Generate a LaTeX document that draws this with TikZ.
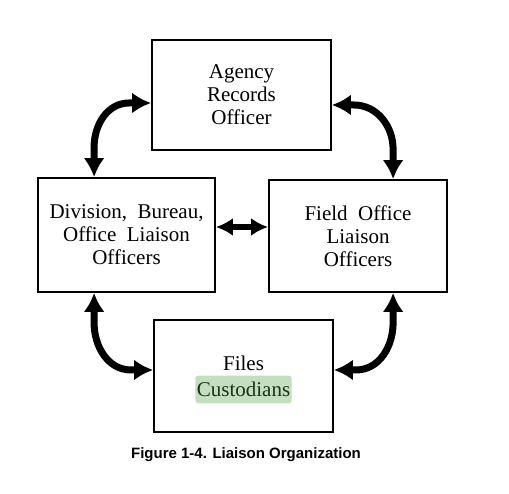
\documentclass[tikz,border=0pt]{standalone}
\usepackage{fontspec}
\setmainfont{Liberation Serif}
\newfontfamily\capfont{Liberation Sans}
\usetikzlibrary{arrows.meta,calc}
\definecolor{hl}{RGB}{196,223,192}
\definecolor{hltext}{RGB}{25,50,25}
\tikzset{
  boxnode/.style={draw=black, line width=1.8pt, minimum width=#1, align=center, font=\fontsize{21}{23}\selectfont, inner sep=0pt},
  link/.style={line width=7pt, {Latex[length=19pt,width=21pt]}-{Latex[length=19pt,width=21pt]}},
  midlink/.style={line width=5.5pt, {Latex[length=17pt,width=18pt]}-{Latex[length=17pt,width=18pt]}}
}
\begin{document}
\begin{tikzpicture}[x=1pt,y=1pt]
\useasboundingbox[fill=white] (0,0) rectangle (509,494);
\node[boxnode=179pt, minimum height=110pt] (T) at (241.5,399) {Agency\\Records\\Officer};
\node[boxnode=177pt, minimum height=114pt] (L) at (126.5,259) {Division,\ \ Bureau,\\Office\ \ Liaison\\Officers};
\node[boxnode=178pt, minimum height=112pt] (R) at (358,258) {Field\ \ Office\\Liaison\\Officers};
\node[boxnode=179pt, minimum height=112pt] (B) at (243.5,118) {};
\node[font=\fontsize{21}{23}\selectfont] (files) at (243.5,131) {Files};
\node[fill=hl, rounded corners=3pt, text=hltext, inner xsep=1.5pt, inner ysep=6.5pt, font=\fontsize{21}{23}\selectfont] (cust) at (243.5,104.5) {Custodians};
\node[font=\capfont\bfseries\fontsize{15}{18}\selectfont] (cap) at (246,39) {Figure 1-4. Liaison Organization};
% connector end points
\coordinate (a1) at ($(L.north west)+(57,0)$);
\coordinate (b1) at ($(T.west)+(0,-8)$);
\coordinate (a2) at ($(R.north west)+(125,0)$);
\coordinate (b2) at ($(T.east)+(0,-10)$);
\coordinate (a3) at ($(L.south west)+(57,0)$);
\coordinate (b3) at ($(B.west)+(0,6)$);
\coordinate (a4) at ($(R.south west)+(125,0)$);
\coordinate (b4) at ($(B.east)+(0,6)$);
% connectors
\draw[link] (a1) -- ($(a1)+(0,30)$) to[out=90,in=180] ($(b1)+(-22,0)$) -- (b1);
\draw[link] (a2) -- ($(a2)+(0,30)$) to[out=90,in=0] ($(b2)+(22,0)$) -- (b2);
\draw[link] (a3) -- ($(a3)+(0,-30)$) to[out=-90,in=180] ($(b3)+(-22,0)$) -- (b3);
\draw[link] (a4) -- ($(a4)+(0,-30)$) to[out=-90,in=0] ($(b4)+(22,0)$) -- (b4);
\coordinate (m) at ($(L.east)+(0,8)$);
\draw[midlink] (m) -- (R.west |- m);
\end{tikzpicture}
\end{document}
